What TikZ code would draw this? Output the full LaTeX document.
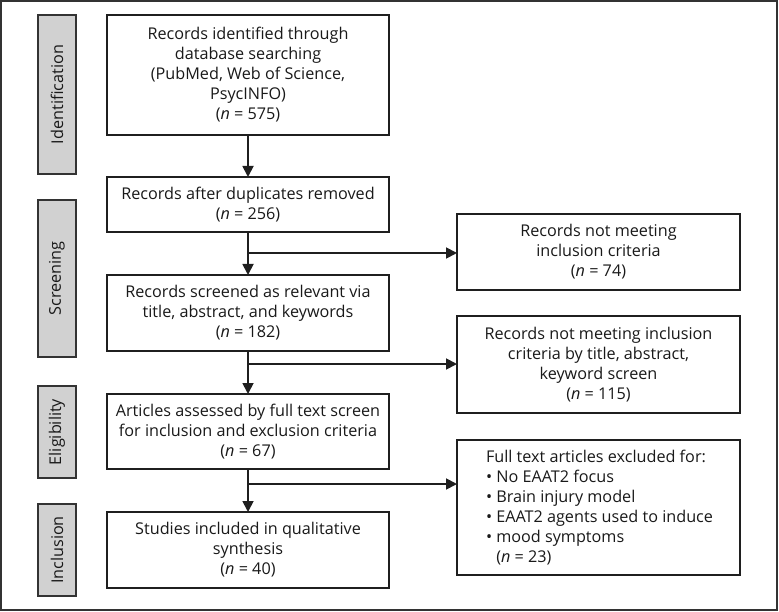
\documentclass[tikz,border=0pt]{standalone}
\usepackage{fontspec}
\setmainfont{Open Sans}
\usetikzlibrary{arrows.meta}
\begin{document}
\begin{tikzpicture}[x=1pt,y=-1pt,
  every node/.style={inner sep=0pt, outer sep=0pt, text=black!90},
  txt/.style={font=\fontsize{16.2}{20}\selectfont},
  flowbox/.style={txt, draw=black!88, line width=1.8pt, minimum width=282pt, align=center},
  phase/.style={draw=black!80, fill=black!18, line width=1.6pt, minimum width=38pt},
  phasetext/.style={txt, rotate=90},
  conn/.style={line width=1.8pt, draw=black!88},
  arr/.style={conn, -{Triangle[length=11pt,width=11pt]}}]
\useasboundingbox (0,0) rectangle (779,612);
\draw[line width=1.8pt, draw=black!80] (1,1) rectangle (777,610);
% phase labels
\node[phase, minimum height=159pt] (l1) at (57,94.5) {};
\node[phasetext] (t1) at (l1.center) {Identification};
\node[phase, minimum height=157pt] (l2) at (57,278.5) {};
\node[phasetext] (t2) at (l2.center) {Screening};
\node[phase, minimum height=92pt] (l3) at (57,432) {};
\node[phasetext] (t3) at (l3.center) {Eligibility};
\node[phase, minimum height=92pt] (l4) at (57,550) {};
\node[phasetext] (t4) at (l4.center) {Inclusion};
% main boxes
\node[flowbox, minimum height=120pt] (b1) at (248,75) {Records identified through\\database searching\\ (PubMed, Web of Science,\\PsycINFO)\\(\textit{n} = 575)};
\node[flowbox, minimum height=55pt] (b2) at (248,204.5) {Records after duplicates removed\\(\textit{n} = 256)};
\node[flowbox, minimum height=76pt] (b3) at (248,313) {Records screened as relevant via\\title, abstract, and keywords\\(\textit{n} = 182)};
\node[flowbox, minimum height=75pt] (b4) at (248,431.5) {Articles assessed by full text screen\\for inclusion and exclusion criteria\\(\textit{n} = 67)};
\node[flowbox, minimum height=76pt] (b5) at (248,550) {Studies included in qualitative\\synthesis\\(\textit{n} = 40)};
% right boxes
\node[flowbox, minimum width=283pt, minimum height=76pt] (r1) at (598.5,252) {Records not meeting\\inclusion criteria\\(\textit{n} = 74)};
\node[flowbox, minimum width=283pt, minimum height=97pt] (r2) at (598.5,364.5) {Records not meeting inclusion\\criteria by title, abstract,\\keyword screen\\(\textit{n} = 115)};
\node[flowbox, minimum width=283pt, minimum height=135pt] (r3) at (598.5,507.5) {};
\node[txt, anchor=west, align=left] (r3t) at (486,507.5) {Full text articles excluded for:\\
\textbullet{} No EAAT2 focus\\
\textbullet{} Brain injury model\\
\textbullet{} EAAT2 agents used to induce\\
\textbullet{} mood symptoms\\
\phantom{\textbullet{} }(\textit{n} = 23)};
% connectors
\draw[arr] (b1) -- (b2);
\draw[arr] (b2) -- (b3);
\draw[arr] (b3) -- (b4);
\draw[arr] (b4) -- (b5);
\coordinate (j1) at (248,253);
\coordinate (j2) at (248,364);
\coordinate (j3) at (248,484);
\draw[arr] (j1) -- (j1 -| r1.west);
\draw[arr] (j2) -- (j2 -| r2.west);
\draw[arr] (j3) -- (j3 -| r3.west);
\end{tikzpicture}
\end{document}
